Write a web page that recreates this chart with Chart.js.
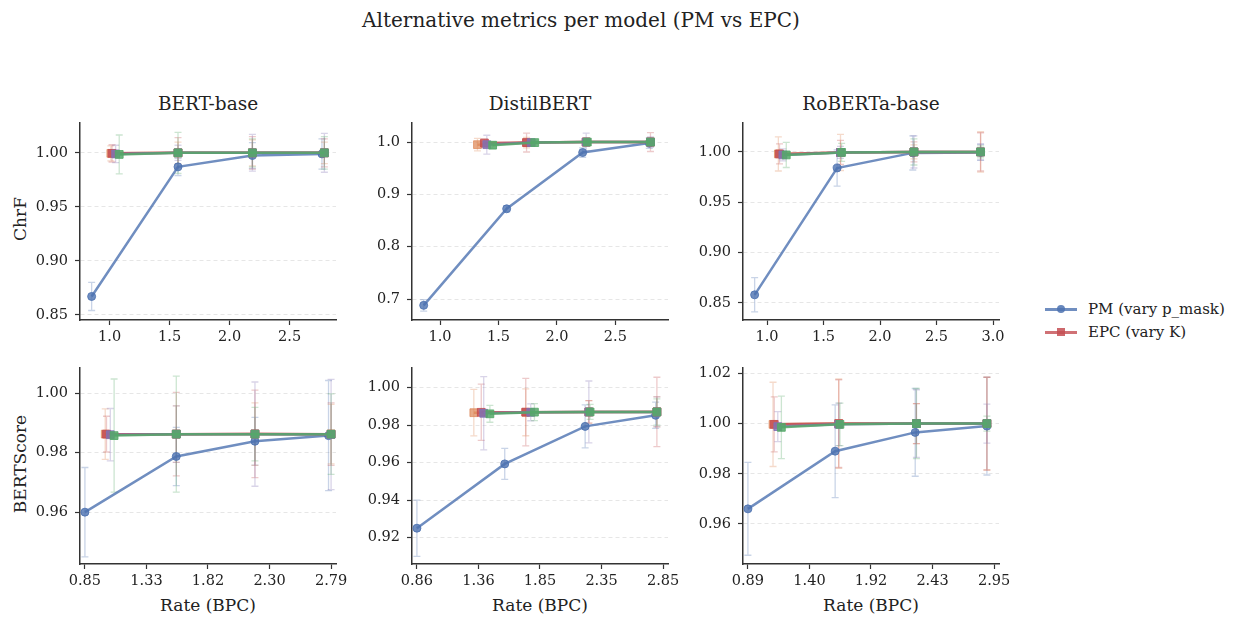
<!DOCTYPE html>
<html><head><meta charset="utf-8">
<script src="https://cdn.jsdelivr.net/npm/chart.js@4.4.0/dist/chart.umd.min.js"></script>
<style>
body{margin:0;background:#fff;width:1243px;height:627px;position:relative;overflow:hidden;font-family:"DejaVu Serif",serif;color:#222;}
.t{position:absolute;white-space:nowrap;transform:translate(-50%,-50%);}
.yl{position:absolute;white-space:nowrap;transform:translate(-50%,-50%) rotate(-90deg);}
canvas{position:absolute;}
.lg{position:absolute;height:2.5px;width:32px;}
.mk{position:absolute;}
.lt{position:absolute;font-size:15px;white-space:nowrap;transform:translateY(-50%);}
</style></head><body>

<div class="t" style="left:581px;top:20px;font-size:20px;">Alternative metrics per model (PM vs EPC)</div>
<div class="t" style="left:208px;top:103px;font-size:18.5px;">BERT-base</div>
<div class="t" style="left:540px;top:103px;font-size:18.5px;">DistilBERT</div>
<div class="t" style="left:871px;top:103px;font-size:18.5px;">RoBERTa-base</div>
<div class="yl" style="left:20px;top:219px;font-size:17px;">ChrF</div>
<div class="yl" style="left:20px;top:464px;font-size:17px;">BERTScore</div>
<div class="t" style="left:208px;top:605px;font-size:17px;">Rate (BPC)</div>
<div class="t" style="left:540px;top:605px;font-size:17px;">Rate (BPC)</div>
<div class="t" style="left:871px;top:605px;font-size:17px;">Rate (BPC)</div>

<div class="lg" style="left:1045px;top:308px;background:rgba(76,114,176,0.8)"></div>
<div class="mk" style="left:1057px;top:305px;width:8px;height:8px;border-radius:50%;background:rgba(76,114,176,0.85)"></div>
<div class="lt" style="left:1088px;top:309px;">PM (vary p_mask)</div>
<div class="lg" style="left:1045px;top:331px;background:rgba(196,78,82,0.8)"></div>
<div class="mk" style="left:1057px;top:328px;width:8px;height:8px;background:rgba(196,78,82,0.85)"></div>
<div class="lt" style="left:1088px;top:332px;">EPC (vary K)</div>

<canvas id="c0"></canvas><canvas id="c1"></canvas><canvas id="c2"></canvas>
<canvas id="c3"></canvas><canvas id="c4"></canvas><canvas id="c5"></canvas>

<script>
// ---------- DATA ----------
const models = ['BERT-base', 'DistilBERT', 'RoBERTa-base'];
const seriesLabels = ['PM (vary p_mask)', 'EPC (vary K)'];

// BERT-base
const bertPmRate = [0.85, 1.57, 2.19, 2.77];
const bertEpcRate = [[1.01, 1.57, 2.19, 2.79], [1.02, 1.57, 2.19, 2.79], [1.05, 1.57, 2.19, 2.79], [1.08, 1.57, 2.19, 2.79]];
const bertPmChrf = [0.867, 0.987, 0.9975, 0.999];
const bertPmChrfErr = [0.013, 0.008, 0.012, 0.014];
const bertEpcChrf = [[0.9995, 1.0, 1.0, 1.0], [0.9995, 1.0, 1.0, 1.0], [0.999, 1.0, 1.0, 1.0], [0.9985, 1.0, 1.0, 1.0]];
const bertEpcChrfErr = [[0.007, 0.010, 0.012, 0.010], [0.008, 0.014, 0.015, 0.013], [0.008, 0.007, 0.017, 0.018], [0.018, 0.019, 0.013, 0.015]];
const bertPmBs = [0.960, 0.9787, 0.9838, 0.9857];
const bertPmBsErr = [0.015, 0.0098, 0.008, 0.0185];
const bertEpcBs = [[0.9862, 0.9862, 0.9862, 0.9862], [0.9862, 0.9862, 0.9863, 0.9862], [0.9860, 0.9862, 0.9862, 0.9861], [0.9857, 0.9862, 0.9862, 0.9862]];
const bertEpcBsErr = [[0.0085, 0.0095, 0.0105, 0.010], [0.006, 0.014, 0.0147, 0.0105], [0.0088, 0.0095, 0.0175, 0.0185], [0.019, 0.0195, 0.009, 0.0135]];

// DistilBERT
const distilPmRate = [0.86, 1.57, 2.22, 2.79];
const distilEpcRate = [[1.32, 1.74, 2.25, 2.80], [1.38, 1.74, 2.25, 2.80], [1.40, 1.78, 2.25, 2.80], [1.45, 1.81, 2.26, 2.80]];
const distilPmChrf = [0.688, 0.8725, 0.980, 0.998];
const distilPmChrfErr = [0.011, 0.006, 0.009, 0.010];
const distilEpcChrf = [[0.995, 0.999, 1.0, 1.0], [0.998, 0.999, 1.0, 1.0], [0.995, 0.999, 1.0, 1.0], [0.994, 0.999, 1.0, 1.0]];
const distilEpcChrfErr = [[0.012, 0.010, 0.005, 0.008], [0.008, 0.018, 0.008, 0.018], [0.018, 0.006, 0.017, 0.010], [0.006, 0.004, 0.004, 0.006]];
const distilPmBs = [0.925, 0.9593, 0.9793, 0.9852];
const distilPmBsErr = [0.015, 0.0083, 0.0115, 0.007];
const distilEpcBs = [[0.9866, 0.9868, 0.9870, 0.9871], [0.9868, 0.9869, 0.9870, 0.9870], [0.9863, 0.9868, 0.9870, 0.9870], [0.9860, 0.9869, 0.9870, 0.9870]];
const distilEpcBsErr = [[0.0124, 0.0125, 0.006, 0.008], [0.015, 0.018, 0.006, 0.0185], [0.0195, 0.0045, 0.0165, 0.008], [0.0045, 0.0045, 0.004, 0.007]];

// RoBERTa-base
const robertaPmRate = [0.89, 1.62, 2.29, 2.89];
const robertaEpcRate = [[1.10, 1.65, 2.30, 2.89], [1.11, 1.65, 2.30, 2.89], [1.14, 1.65, 2.30, 2.89], [1.17, 1.66, 2.30, 2.89]];
const robertaPmChrf = [0.858, 0.984, 0.999, 0.9995];
const robertaPmChrfErr = [0.017, 0.018, 0.017, 0.008];
const robertaEpcChrf = [[0.998, 0.9995, 1.0, 1.0], [0.998, 0.9995, 1.0, 1.0], [0.997, 0.9995, 1.0, 1.0], [0.997, 0.9995, 1.0, 1.0]];
const robertaEpcChrfErr = [[0.017, 0.018, 0.007, 0.020], [0.010, 0.012, 0.010, 0.019], [0.006, 0.006, 0.016, 0.008], [0.0125, 0.009, 0.013, 0.006]];
const robertaPmBs = [0.966, 0.989, 0.9965, 0.999];
const robertaPmBsErr = [0.0185, 0.0185, 0.0175, 0.0195];
const robertaEpcBs = [[0.9997, 1.0, 1.0, 1.0], [0.9997, 1.0, 1.0, 1.0], [0.9988, 0.9997, 1.0, 1.0], [0.9985, 0.9997, 1.0, 1.0]];
const robertaEpcBsErr = [[0.0168, 0.0178, 0.008, 0.0185], [0.011, 0.0175, 0.008, 0.0185], [0.006, 0.0085, 0.0135, 0.0078], [0.0125, 0.0085, 0.014, 0.003]];

// tick labels
const topXTicks = [[1.0, 1.5, 2.0, 2.5], [1.0, 1.5, 2.0, 2.5], [1.0, 1.5, 2.0, 2.5, 3.0]];
const bottomXTicks = [[0.85, 1.335, 1.82, 2.305, 2.79], [0.86, 1.3575, 1.855, 2.3525, 2.85], [0.89, 1.405, 1.92, 2.435, 2.95]];
const bottomXLabels = [['0.85', '1.33', '1.82', '2.30', '2.79'], ['0.86', '1.36', '1.85', '2.35', '2.85'], ['0.89', '1.40', '1.92', '2.43', '2.95']];
const chrfYTicks = [[0.85, 0.90, 0.95, 1.00], [0.7, 0.8, 0.9, 1.0], [0.85, 0.90, 0.95, 1.00]];
const bsYTicks = [[0.96, 0.98, 1.00], [0.92, 0.94, 0.96, 0.98, 1.00], [0.96, 0.98, 1.00, 1.02]];

// ---------- STYLE ----------
const pmRGB = [76, 114, 176];
const epcRGB = [[221, 132, 82], [196, 78, 82], [129, 114, 179], [85, 168, 104]];
const rgba = (c, a) => `rgba(${c[0]},${c[1]},${c[2]},${a})`;

Chart.defaults.font.family = '"DejaVu Serif", serif';
Chart.defaults.font.size = 14.5;
Chart.defaults.color = '#222';

const errPlugin = {
  id: 'errbars',
  beforeDatasetsDraw(chart) {
    const ctx = chart.ctx, ys = chart.scales.y;
    chart.data.datasets.forEach((ds, i) => {
      if (!ds.errY) return;
      const meta = chart.getDatasetMeta(i);
      ctx.save();
      ctx.strokeStyle = ds.errColor;
      ctx.lineWidth = 1.3;
      meta.data.forEach((pt, j) => {
        const v = ds.data[j].y, e = ds.errY[j];
        const y1 = ys.getPixelForValue(v - e), y2 = ys.getPixelForValue(v + e);
        const x = pt.x, cw = 3.5;
        ctx.beginPath();
        ctx.moveTo(x, y1); ctx.lineTo(x, y2);
        ctx.moveTo(x - cw, y1); ctx.lineTo(x + cw, y1);
        ctx.moveTo(x - cw, y2); ctx.lineTo(x + cw, y2);
        ctx.stroke();
      });
      ctx.restore();
    });
  }
};

const PADL = 70, PADT = 12, PADR = 30, PADB = 36;

function makePanel(cfg) {
  const cv = document.getElementById(cfg.id);
  const W = PADL + cfg.w + PADR, H = PADT + cfg.h + PADB;
  cv.width = W; cv.height = H;
  cv.style.left = (cfg.left - PADL) + 'px';
  cv.style.top = (cfg.top - PADT) + 'px';
  cv.style.width = W + 'px'; cv.style.height = H + 'px';

  const datasets = [];
  datasets.push({
    label: seriesLabels[0],
    data: cfg.pmRate.map((x, i) => ({ x, y: cfg.pmVal[i] })),
    errY: cfg.pmErr, errColor: rgba(pmRGB, 0.3),
    showLine: true, borderColor: rgba(pmRGB, 0.8), borderWidth: 2.5,
    pointStyle: 'circle', pointRadius: 4, pointBackgroundColor: rgba(pmRGB, 0.8),
    pointBorderColor: rgba(pmRGB, 0.85), pointBorderWidth: 1, order: 4
  });
  cfg.epcRate.forEach((rates, k) => {
    const a = k === 0 ? 0.7 : 0.85;
    datasets.push({
      label: k === 1 ? seriesLabels[1] : '',
      data: rates.map((x, i) => ({ x, y: cfg.epcVal[k][i] })),
      errY: cfg.epcErr[k], errColor: rgba(epcRGB[k], 0.3),
      showLine: true, borderColor: rgba(epcRGB[k], a), borderWidth: 2.5,
      pointStyle: 'rect', pointRadius: 5.5, pointBackgroundColor: rgba(epcRGB[k], a),
      pointBorderColor: rgba(epcRGB[k], a), pointBorderWidth: 1, order: 3 - k
    });
  });

  new Chart(cv, {
    type: 'scatter',
    data: { datasets },
    plugins: [errPlugin],
    options: {
      responsive: false, animation: false, events: [],
      layout: { padding: { left: 0, top: PADT, right: PADR, bottom: 0 } },
      plugins: { legend: { display: false }, tooltip: { enabled: false }, title: { display: false } },
      scales: {
        x: {
          type: 'linear', min: cfg.xMin, max: cfg.xMax,
          afterBuildTicks: (s) => { s.ticks = cfg.xTicks.map(v => ({ value: v })); },
          afterFit: (s) => { s.height = PADB; },
          ticks: {
            autoSkip: false, maxRotation: 0, padding: 4, color: '#222',
            callback: (v, i) => cfg.xLabels ? cfg.xLabels[i] : v.toFixed(1)
          },
          grid: { display: true, drawOnChartArea: false, drawTicks: true, tickLength: 5, tickColor: '#333', tickWidth: 1.2 },
          border: { display: true, color: '#333', width: 1.5 }
        },
        y: {
          type: 'linear', min: cfg.yMin, max: cfg.yMax,
          afterBuildTicks: (s) => { s.ticks = cfg.yTicks.map(v => ({ value: v })); },
          afterFit: (s) => { s.width = PADL; },
          ticks: {
            autoSkip: false, padding: 7, color: '#222',
            callback: (v) => v.toFixed(cfg.yDec)
          },
          grid: { display: true, drawOnChartArea: true, color: 'rgba(0,0,0,0.11)', lineWidth: 0.9, tickLength: 5, tickColor: '#333', tickWidth: 1.2 },
          border: { display: true, color: '#333', width: 1.5, dash: [4, 3] }
        }
      }
    }
  });
}

const colLeft = [80, 412, 743];
const rowTop = [119, 364];
const rowH = [201, 200];
const PW = 256;

const topX = [[0.753, 2.887], [0.76, 2.95], [0.787, 3.053]];
const botX = [[0.8112, 2.8288], [0.8202, 2.8898], [0.8488, 2.9912]];
const chrfY = [[0.8452, 1.0279], [0.660, 1.037], [0.833, 1.029]];
const bsY = [[0.9426, 1.0085], [0.9059, 1.0106], [0.944, 1.0223]];
const chrfDec = [2, 1, 2];

const pmRates = [bertPmRate, distilPmRate, robertaPmRate];
const epcRates = [bertEpcRate, distilEpcRate, robertaEpcRate];
const pmChrf = [bertPmChrf, distilPmChrf, robertaPmChrf];
const pmChrfErr = [bertPmChrfErr, distilPmChrfErr, robertaPmChrfErr];
const epcChrf = [bertEpcChrf, distilEpcChrf, robertaEpcChrf];
const epcChrfErr = [bertEpcChrfErr, distilEpcChrfErr, robertaEpcChrfErr];
const pmBs = [bertPmBs, distilPmBs, robertaPmBs];
const pmBsErr = [bertPmBsErr, distilPmBsErr, robertaPmBsErr];
const epcBs = [bertEpcBs, distilEpcBs, robertaEpcBs];
const epcBsErr = [bertEpcBsErr, distilEpcBsErr, robertaEpcBsErr];

for (let m = 0; m < 3; m++) {
  makePanel({
    id: 'c' + m, left: colLeft[m], top: rowTop[0], w: PW, h: rowH[0],
    pmRate: pmRates[m], pmVal: pmChrf[m], pmErr: pmChrfErr[m],
    epcRate: epcRates[m], epcVal: epcChrf[m], epcErr: epcChrfErr[m],
    xMin: topX[m][0], xMax: topX[m][1], xTicks: topXTicks[m], xLabels: null,
    yMin: chrfY[m][0], yMax: chrfY[m][1], yTicks: chrfYTicks[m], yDec: chrfDec[m]
  });
  makePanel({
    id: 'c' + (m + 3), left: colLeft[m], top: rowTop[1], w: PW, h: rowH[1],
    pmRate: pmRates[m], pmVal: pmBs[m], pmErr: pmBsErr[m],
    epcRate: epcRates[m], epcVal: epcBs[m], epcErr: epcBsErr[m],
    xMin: botX[m][0], xMax: botX[m][1], xTicks: bottomXTicks[m], xLabels: bottomXLabels[m],
    yMin: bsY[m][0], yMax: bsY[m][1], yTicks: bsYTicks[m], yDec: 2
  });
}
</script>
</body></html>
